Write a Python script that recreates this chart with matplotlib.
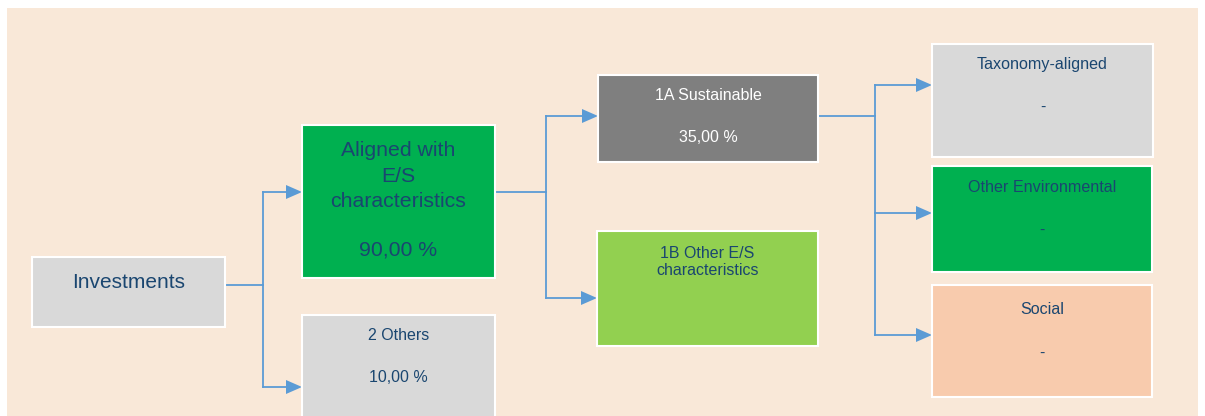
import matplotlib.pyplot as plt
from matplotlib.patches import Rectangle, Polygon

plt.rcParams['font.family'] = ['Liberation Sans', 'DejaVu Sans']

# categories and their shares
names = ["Investments", "Aligned with\nE/S\ncharacteristics", "2 Others",
         "1A Sustainable", "1B Other E/S\ncharacteristics",
         "Taxonomy-aligned", "Other Environmental", "Social"]
values = [None, "90,00 %", "10,00 %", "35,00 %", None, "-", "-", "-"]
# parent of each node (index), -1 for root
parents = [-1, 0, 0, 1, 1, 3, 3, 3]

# layout (pixels, y down): x0, y0, x1, y1, title y, value y
boxes = [
    (32, 257, 225, 327, 283, None),
    (302, 125, 495, 278, 176, 250),
    (302, 315, 495, 430, 336, 378),
    (598, 75, 818, 162, 96, 138),
    (597, 231, 818, 346, 262, None),
    (932, 44, 1153, 157, 64, 107),
    (932, 166, 1152, 272, 188, 230),
    (932, 285, 1152, 397, 310, 353),
]
fills = ["#D9D9D9", "#00B050", "#D9D9D9", "#7F7F7F", "#92D050",
         "#D9D9D9", "#00B050", "#F8CBAD"]
text_cols = ["#1A4670", "#1A4670", "#1A4670", "white", "#1A4670",
             "#1A4670", "#1A4670", "#1A4670"]
sizes = [15, 15.3, 11.5, 11.5, 11.5, 11.6, 11.6, 11.6]
spacing = [1.2, 1.45, 1.2, 1.2, 1.2, 1.2, 1.2, 1.2]
# where the elbow of each group of connectors sits (x)
elbow_x = {0: 263, 1: 546, 3: 875}
# y where each child's arrow enters
entry_y = {1: 192, 2: 387, 3: 116, 4: 298, 5: 85, 6: 213, 7: 335}
# y where the line leaves the parent
exit_y = {0: 285, 1: 192, 3: 116}

line_col = "#5B9BD5"

fig = plt.figure(figsize=(12.05, 4.16), dpi=100)
ax = fig.add_axes([0, 0, 1, 1])
ax.set_xlim(0, 1205)
ax.set_ylim(416, 0)
ax.axis('off')

ax.add_patch(Rectangle((7, 8), 1191, 420, facecolor="#F9E8D8", edgecolor='none', zorder=0))

for i, (x0, y0, x1, y1, ty, vy) in enumerate(boxes):
    ax.add_patch(Rectangle((x0, y0), x1 - x0, y1 - y0, facecolor=fills[i],
                           edgecolor='white', linewidth=1.5, zorder=2))
    cx = (x0 + x1) / 2
    ax.text(cx, ty, names[i], ha='center', va='center', fontsize=sizes[i],
            color=text_cols[i], linespacing=spacing[i], zorder=3)
    if vy is not None and values[i] is not None:
        ax.text(cx, vy, values[i], ha='center', va='center', fontsize=sizes[i],
                color=text_cols[i], zorder=3)

# connectors
for p, ex in elbow_x.items():
    kids = [k for k in range(len(parents)) if parents[k] == p]
    px1 = boxes[p][2]
    ys = [entry_y[k] for k in kids] + [exit_y[p]]
    ax.plot([px1, ex], [exit_y[p], exit_y[p]], color=line_col, lw=1.3, zorder=1)
    ax.plot([ex, ex], [min(ys), max(ys)], color=line_col, lw=1.3, zorder=1)
    for k in kids:
        kx0 = boxes[k][0]
        ey = entry_y[k]
        ax.plot([ex, kx0 - 14], [ey, ey], color=line_col, lw=1.3, zorder=1)
        ax.add_patch(Polygon([(kx0 - 16, ey - 7), (kx0 - 16, ey + 7), (kx0, ey)],
                             closed=True, facecolor=line_col, edgecolor='none', zorder=1))

fig.savefig("out.png", dpi=100, facecolor='white')
